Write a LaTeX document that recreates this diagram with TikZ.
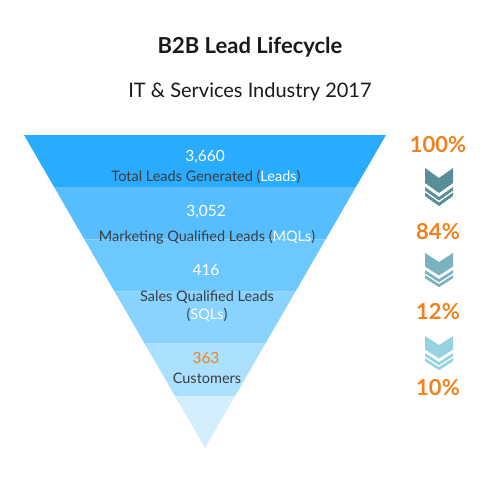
\documentclass[tikz,border=0pt]{standalone}
\usepackage{fontspec}
\setmainfont{Lato}
\usetikzlibrary{calc}
\definecolor{bandA}{RGB}{42,172,254}
\definecolor{bandB}{RGB}{86,190,255}
\definecolor{bandC}{RGB}{108,200,255}
\definecolor{bandD}{RGB}{136,211,255}
\definecolor{bandE}{RGB}{172,224,255}
\definecolor{bandF}{RGB}{212,238,253}
\definecolor{iconA}{RGB}{88,142,152}
\definecolor{iconB}{RGB}{122,178,190}
\definecolor{iconC}{RGB}{150,210,224}
\definecolor{orange}{RGB}{240,130,30}
\definecolor{darkgray}{RGB}{60,60,60}
\tikzset{
  numtxt/.style={font=\fontsize{15.5}{18}\selectfont,text=white,inner sep=0pt},
  labeltxt/.style={font=\fontsize{14.5}{17}\selectfont,text=darkgray,inner sep=0pt,align=center},
  pcttxt/.style={font=\bfseries\fontsize{22}{26}\selectfont,text=orange,inner sep=0pt},
  chevicon/.pic={
    \fill (-14,0) -- (0,10) -- (14,0) -- (14,15) -- (0,25) -- (-14,15) -- cycle;
    \fill (-14,19) -- (0,29) -- (14,19) -- (14,22.5) -- (0,32.5) -- (-14,22.5) -- cycle;
    \fill (-14,24.5) -- (0,34.5) -- (14,24.5) -- (14,28) -- (0,38) -- (-14,28) -- cycle;
  }
}
\begin{document}
\begin{tikzpicture}[x=1pt,y=-1pt]
  \useasboundingbox (0,0) rectangle (500,500);
  % titles
  \node[font=\bfseries\fontsize{22}{26}\selectfont,text=black!90] (title) at (250,47) {B2B Lead Lifecycle};
  \node[font=\fontsize{20}{24}\selectfont,text=black!90] (subtitle) at (250,92) {IT \& Services Industry 2017};
  % funnel bands
  \coordinate (tl) at (24,135);
  \coordinate (tr) at (386,135);
  \coordinate (apex) at (205,448);
  \foreach \i/\c in {0/bandA,1/bandB,2/bandC,3/bandD,4/bandE,5/bandF}{
    \pgfmathsetmacro\ta{\i/6}
    \pgfmathsetmacro\tb{(\i+1)/6}
    \fill[\c] ($(tl)!\ta!(apex)$) -- ($(tr)!\ta!(apex)$) -- ($(tr)!\tb!(apex)$) -- ($(tl)!\tb!(apex)$) -- cycle;
  }
  % funnel texts
  \node[numtxt] (leadsnum) at (205,157) {3,660};
  \node[labeltxt] (leadslbl) at (206,177) {Total Leads Generated (\textcolor{white}{Leads})};
  \node[numtxt] (mqlnum) at (206,212) {3,052};
  \node[labeltxt] (mqllbl) at (207,237) {Marketing Qualified Leads (\textcolor{white}{MQLs})};
  \node[numtxt] (sqlnum) at (206,270) {416};
  \node[labeltxt] (sqllbl) at (207,306) {Sales Qualified Leads\\[1pt](\textcolor{white}{SQLs})};
  \node[numtxt,text=orange] (custnum) at (206,358) {363};
  \node[labeltxt] (custlbl) at (207,378) {Customers};
  % conversion column
  \node[pcttxt] (pctA) at (438,145) {100\%};
  \pic[color=iconA] (chevA) at (439,168) {chevicon};
  \node[pcttxt] (pctB) at (438,232) {84\%};
  \pic[color=iconB,yscale=0.9] (chevB) at (439,253) {chevicon};
  \node[pcttxt] (pctC) at (438,312) {12\%};
  \pic[color=iconC,yscale=0.9] (chevC) at (439,336) {chevicon};
  \node[pcttxt] (pctD) at (438,388) {10\%};
\end{tikzpicture}
\end{document}
